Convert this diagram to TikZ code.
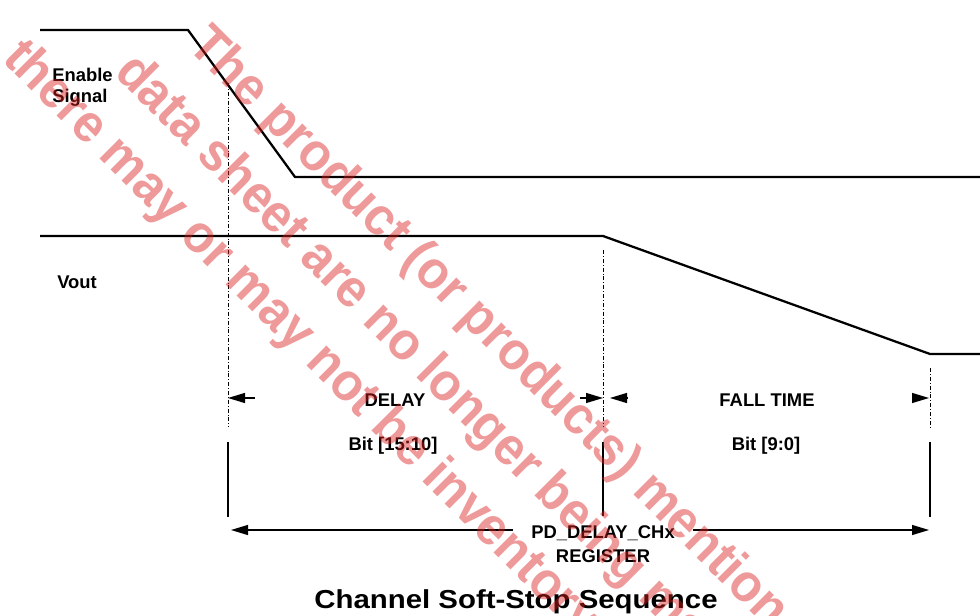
\documentclass[tikz,border=0pt]{standalone}
\usepackage{fontspec}
\setmainfont{Liberation Sans}
\usetikzlibrary{arrows.meta}
\definecolor{wmred}{RGB}{220,30,30}
\newcommand{\wmtext}[1]{\scalebox{0.94}[1]{#1}}
\begin{document}
\begin{tikzpicture}[x=0.75pt,y=-0.75pt,
  wave/.style={line width=1.7pt, line join=miter},
  guide/.style={line width=0.55pt, dash pattern=on 3pt off 1.5pt on 0.6pt off 1.5pt},
  bound/.style={line width=0.9pt},
  dimline/.style={line width=0.9pt},
  tipR/.style={-{Triangle[length=12.75pt,width=7.5pt]}},
  tipLR/.style={{Triangle[length=12.75pt,width=7.5pt]}-{Triangle[length=12.75pt,width=7.5pt]}},
  lbl/.style={font=\fontsize{13.8}{16}\selectfont\bfseries, inner sep=0pt},
  wm/.style={font=\fontsize{40}{48}\selectfont\bfseries, text=wmred, text opacity=0.45, rotate=-45, anchor=base west, inner sep=0pt}
]
\useasboundingbox (0,0) rectangle (980,616);

% waveforms
\coordinate (e0) at (40,30);
\coordinate (e1) at (188,30);
\coordinate (e2) at (295,177);
\coordinate (e3) at (982,177);
\coordinate (v0) at (40,236);
\coordinate (v1) at (603,236);
\coordinate (v2) at (930,354);
\coordinate (v3) at (982,354);
\draw[wave] (e0) -- (e1) -- (e2) -- (e3);
\draw[wave] (v0) -- (v1) -- (v2) -- (v3);

% guide lines (dash-dot)
\coordinate (g1t) at (228,83);  \coordinate (g1b) at (228,427);
\coordinate (g2t) at (603,250); \coordinate (g2b) at (603,427);
\coordinate (g3t) at (930,368); \coordinate (g3b) at (930,428);
\draw[guide] (g1t) -- (g1b);
\draw[guide] (g2t) -- (g2b);
\draw[guide] (g3t) -- (g3b);

% solid boundary lines
\coordinate (b1t) at (228,442); \coordinate (b1b) at (228,517);
\coordinate (b2t) at (603,442); \coordinate (b2b) at (603,516);
\coordinate (b3t) at (930,442); \coordinate (b3b) at (930,517);
\draw[bound] (b1t) -- (b1b);
\draw[bound] (b2t) -- (b2b);
\draw[bound] (b3t) -- (b3b);

% DELAY dimension arrows
\coordinate (d1s) at (255,398); \coordinate (d1e) at (228,398);
\coordinate (d2s) at (580,398); \coordinate (d2e) at (603,398);
\draw[dimline, tipR] (d1s) -- (d1e);
\draw[dimline, tipR] (d2s) -- (d2e);
% FALL TIME arrowheads
\coordinate (f1s) at (627,398); \coordinate (f1e) at (610,398);
\coordinate (f2s) at (912,398); \coordinate (f2e) at (929,398);
\draw[dimline, tipR] (f1s) -- (f1e);
\draw[dimline, tipR] (f2s) -- (f2e);

% register arrow
\coordinate (rL) at (231,530);
\coordinate (rR) at (929,530);
\draw[dimline, tipLR] (rL) -- (rR);
\node[fill=white, minimum width=135pt, minimum height=14pt, inner sep=0pt] (pdbox) at (603,532) {};

% labels
\node[lbl, anchor=base west] (enable) at (52,82) {Enable};
\node[lbl, anchor=base west] (signal) at (52,103) {Signal};
\node[lbl, anchor=base west] (vout) at (57,288) {Vout};
\node[lbl, anchor=base] (delay) at (395,406) {DELAY};
\node[lbl, anchor=base] (bitA) at (393,450) {Bit [15:10]};
\node[lbl, anchor=base] (fall) at (767,406) {FALL TIME};
\node[lbl, anchor=base] (bitB) at (766,450) {Bit [9:0]};
\node[lbl, anchor=base] (pd) at (603,538) {PD\_DELAY\_CHx};
\node[lbl, anchor=base] (reg) at (603,562) {REGISTER};
\node[font=\fontsize{19.5}{23}\selectfont\bfseries, inner sep=0pt, anchor=base] (title) at (516,608) {\scalebox{1.13}[1]{Channel Soft-Stop Sequence}};

% watermark
\begin{scope}
\clip (0,0) rectangle (980,616);
\node[wm] (wm1) at (186,47) {\wmtext{The product (or products) mentioned in this}};
\node[wm] (wm2) at (113,74) {\wmtext{data sheet are no longer being manufactured}};
\node[wm] (wm3) at (1,60) {\wmtext{there may or may not be inventory}};
\end{scope}
\end{tikzpicture}
\end{document}
